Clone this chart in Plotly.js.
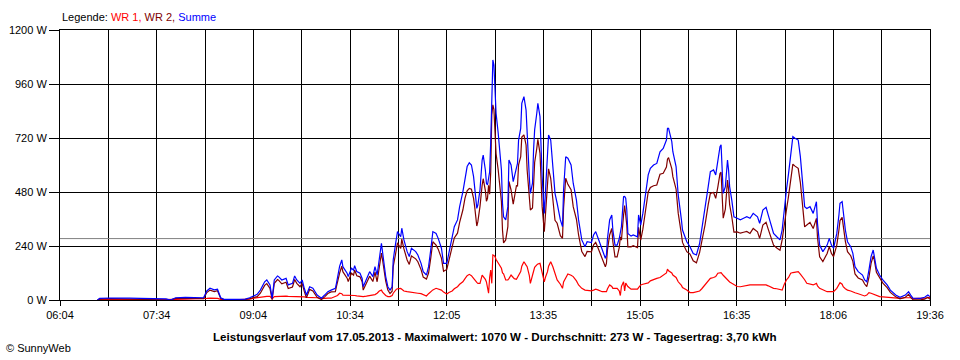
<!DOCTYPE html>
<html>
<head>
<meta charset="utf-8">
<script src="https://cdn.plot.ly/plotly-3.0.1.min.js"></script>
<style>html,body{margin:0;padding:0;background:#fff;}#chart{width:960px;height:360px;}</style>
</head>
<body>
<div id="chart"></div>
<script>
// ---- data ----
const times = ["06:39","06:41","06:51","07:00","07:09","07:19","07:28","07:37","07:43","07:47","07:52","08:01","08:10","08:18","08:21","08:24","08:28","08:31","08:34","08:37","08:47","08:57","09:01","09:05","09:08","09:11","09:15","09:17","09:20","09:22","09:24","09:27","09:28","09:31","09:33","09:35","09:37","09:41","09:43","09:45","09:48","09:50","09:52","09:54","09:57","10:00","10:04","10:08","10:11","10:14","10:17","10:21","10:22","10:23","10:25","10:27","10:28","10:32","10:33","10:36","10:38","10:39","10:41","10:44","10:46","10:47","10:50","10:53","10:56","10:58","11:00","11:02","11:04","11:05","11:08","11:10","11:12","11:14","11:15","11:17","11:18","11:19","11:22","11:23","11:25","11:28","11:30","11:32","11:36","11:38","11:41","11:43","11:46","11:48","11:50","11:52","11:55","11:57","12:00","12:02","12:05","12:07","12:10","12:12","12:15","12:17","12:20","12:22","12:24","12:26","12:28","12:30","12:31","12:33","12:34","12:36","12:38","12:39","12:41","12:42","12:43","12:44","12:45","12:46","12:47","12:48","12:49","12:50","12:51","12:53","12:54","12:56","12:57","12:58","13:00","13:02","13:03","13:05","13:07","13:08","13:10","13:11","13:12","13:14","13:15","13:17","13:19","13:20","13:22","13:23","13:25","13:26","13:27","13:29","13:30","13:32","13:33","13:34","13:36","13:37","13:39","13:40","13:42","13:44","13:46","13:48","13:51","13:53","13:54","13:56","13:58","14:01","14:03","14:06","14:08","14:11","14:14","14:16","14:20","14:22","14:24","14:26","14:28","14:30","14:33","14:34","14:35","14:37","14:39","14:40","14:42","14:44","14:46","14:47","14:48","14:50","14:51","14:52","14:53","14:54","14:57","14:59","15:03","15:04","15:06","15:08","15:10","15:13","15:15","15:18","15:21","15:24","15:27","15:30","15:31","15:32","15:35","15:36","15:39","15:41","15:44","15:45","15:49","15:52","15:55","15:58","16:01","16:03","16:06","16:09","16:11","16:14","16:16","16:18","16:20","16:21","16:23","16:25","16:27","16:28","16:29","16:31","16:33","16:36","16:39","16:42","16:45","16:48","16:51","16:55","16:57","17:00","17:03","17:05","17:08","17:10","17:13","17:16","17:18","17:20","17:22","17:24","17:26","17:28","17:30","17:33","17:35","17:37","17:39","17:41","17:44","17:47","17:50","17:51","17:53","17:56","18:00","18:02","18:04","18:06","18:09","18:11","18:12","18:14","18:15","18:17","18:19","18:22","18:24","18:26","18:29","18:33","18:35","18:37","18:39","18:41","18:43","18:44","18:46","18:49","18:52","18:56","18:59","19:04","19:08","19:13","19:16","19:18","19:20","19:27","19:31","19:34","19:36"];

const summe = [0,7,9,7,8,7,5,5,5,0,10,12,11,10,40,52,45,48,10,3,3,4,10,20,25,44,81,89,67,7,89,107,104,89,93,96,67,74,107,89,74,89,52,22,59,52,22,8,22,37,44,52,74,104,150,178,148,119,104,141,133,153,126,119,96,59,96,126,104,148,111,193,252,215,104,59,44,59,178,244,289,304,281,319,267,215,193,230,215,200,163,126,111,148,222,304,296,274,230,163,163,207,281,326,356,415,481,548,593,610,600,548,504,407,422,490,622,644,578,519,511,540,570,700,896,1067,1044,889,830,741,681,578,430,370,356,415,622,600,526,548,600,607,711,763,874,904,844,726,548,474,519,667,756,830,874,815,667,548,385,474,637,733,711,607,474,430,356,326,489,637,630,600,519,444,356,267,237,259,255,289,304,278,250,222,185,200,274,356,378,311,244,244,274,300,326,459,460,452,400,296,284,289,281,378,333,385,452,556,585,600,607,659,674,711,763,763,704,659,593,467,356,311,259,237,207,200,252,311,400,504,570,578,556,622,681,690,474,504,622,578,504,444,370,363,356,363,370,363,385,370,341,400,412,378,326,296,281,267,311,415,489,563,652,726,719,711,637,533,415,407,415,385,437,341,244,215,244,274,244,230,296,378,430,437,385,311,259,237,207,148,126,111,89,81,133,193,222,200,141,111,89,67,44,22,12,22,37,22,8,7,12,22,15];

const wr1 = [0,3,3,2,3,2,2,2,2,0,3,4,4,4,7,8,8,7,3,1,1,1,4,8,10,14,16,16,16,5,15,16,16,17,17,17,16,16,16,15,15,15,14,12,12,12,10,6,8,8,8,15,15,20,30,28,22,22,22,22,22,20,18,16,15,15,17,20,22,24,30,40,44,35,20,15,15,20,30,44,48,50,52,48,40,37,35,34,32,30,28,24,18,28,37,45,52,48,44,35,27,33,40,50,59,70,81,95,108,114,108,96,88,78,74,74,111,105,92,80,59,30,100,133,74,200,198,193,180,163,155,141,120,116,89,89,95,111,100,95,92,100,110,126,150,170,155,148,110,74,110,133,145,156,160,163,140,133,81,100,126,150,170,148,120,89,70,52,80,96,116,110,104,85,67,52,44,43,41,44,48,45,42,37,37,37,50,67,60,52,52,52,40,20,60,81,40,75,67,60,48,48,48,55,67,70,72,76,85,92,96,100,111,120,137,130,120,111,100,81,65,55,44,33,33,35,40,50,67,80,96,100,104,119,119,122,110,100,89,86,80,74,68,60,59,62,65,67,67,67,67,67,67,63,57,52,50,46,44,70,89,100,119,122,124,126,115,104,90,74,70,67,74,63,52,44,37,37,37,37,52,67,77,70,59,50,44,40,35,32,28,22,18,22,33,30,26,22,18,15,14,12,10,8,7,10,12,10,6,6,8,10,12];

const wr2 = [0,4,6,5,5,5,3,3,3,0,7,8,7,6,33,44,37,41,7,2,2,3,6,12,15,30,65,73,51,2,74,91,88,72,76,79,51,58,91,74,59,74,38,10,47,40,12,2,14,29,36,37,59,84,120,150,126,97,82,119,111,133,108,103,81,44,79,106,82,124,81,153,208,180,84,44,29,39,148,200,241,254,229,271,227,178,158,196,183,170,135,102,93,120,185,259,244,226,186,128,136,174,241,276,297,345,400,453,485,496,492,452,416,329,348,416,511,539,486,439,452,510,470,567,822,867,846,696,650,578,526,437,310,254,267,326,527,489,426,453,508,507,601,637,724,734,689,578,438,400,409,534,611,674,714,652,527,415,304,374,511,583,541,459,354,341,286,274,409,541,514,490,415,359,289,215,193,216,214,245,256,233,208,185,148,163,224,289,318,259,192,192,234,280,266,378,420,377,333,236,236,241,233,323,266,315,380,480,500,508,511,559,563,591,626,633,584,548,493,386,291,256,215,204,174,165,212,261,333,424,474,478,452,503,562,568,364,404,533,492,424,370,302,303,297,301,305,296,318,303,274,333,345,315,269,244,231,221,267,345,400,463,533,604,595,585,522,429,325,333,345,318,363,278,192,171,207,237,207,193,244,311,353,367,326,261,215,197,172,116,98,89,71,59,100,163,196,178,123,96,75,55,34,14,5,12,25,12,2,1,4,12,3];

const average = 273;          // Durchschnitt (W)
const yTickValues = [0, 240, 480, 720, 960, 1200];
const yTickLabels = ["0 W", "240 W", "480 W", "720 W", "960 W", "1200 W"];
const xTickLabels = ["06:04","07:34","09:04","10:34","12:05","13:35","15:05","16:35","18:06","19:36"];
const xStart = "06:04", xEnd = "19:36";
const legendText = 'Legende: <span style="color:#ff0000">WR 1,</span> <span style="color:#800000">WR 2,</span> <span style="color:#0000ff">Summe</span>';
const footerTitle = "Leistungsverlauf vom 17.05.2013 - Maximalwert: 1070 W - Durchschnitt: 273 W - Tagesertrag: 3,70 kWh";
const copyright = "© SunnyWeb";

// ---- helpers ----
function toMin(s){ const p = s.split(":"); return (+p[0])*60 + (+p[1]); }
const x = times.map(toMin);
const x0 = toMin(xStart), x1 = toMin(xEnd);
const nGrid = (xTickLabels.length - 1) * 2;
const tickvals = [], ticktext = [];
for (let k = 0; k <= nGrid; k++) {
  tickvals.push(x0 + (x1 - x0) * k / nGrid);
  ticktext.push(k % 2 === 0 ? xTickLabels[k / 2] : "");
}

const font = "Liberation Sans, Arial, sans-serif";
const traces = [
  {x: [x0, x1], y: [average, average], mode: "lines", line: {color: "#808080", width: 1}, hoverinfo: "skip"},
  {x: x, y: wr1, mode: "lines", name: "WR 1", line: {color: "#ff0000", width: 1.2}},
  {x: x, y: wr2, mode: "lines", name: "WR 2", line: {color: "#800000", width: 1.2}},
  {x: x, y: summe, mode: "lines", name: "Summe", line: {color: "#0000ff", width: 1.2}}
];

const layout = {
  width: 960, height: 360,
  margin: {l: 60, r: 30, t: 30, b: 60, pad: 0},
  paper_bgcolor: "#ffffff", plot_bgcolor: "#ffffff",
  showlegend: false,
  font: {family: font, size: 11, color: "#000"},
  xaxis: {
    range: [x0, x1], tickmode: "array", tickvals: tickvals, ticktext: ticktext,
    showgrid: true, gridcolor: "#000", gridwidth: 1,
    ticks: "outside", ticklen: 5, tickcolor: "#000", tickwidth: 1,
    showline: true, linecolor: "#000", linewidth: 1, mirror: true,
    zeroline: false, tickfont: {family: font, size: 11, color: "#000"}
  },
  yaxis: {
    range: [0, 1200], tickmode: "array", tickvals: yTickValues, ticktext: yTickLabels,
    showgrid: true, gridcolor: "#000", gridwidth: 1,
    ticks: "outside", ticklen: 10, tickcolor: "#000", tickwidth: 1,
    showline: true, linecolor: "#000", linewidth: 1, mirror: true,
    zeroline: false, tickfont: {family: font, size: 11, color: "#000"}
  },
  annotations: [
    {xref: "paper", yref: "paper", x: 0, y: (300 - 17) / 270, xanchor: "left", yanchor: "middle",
     text: legendText, showarrow: false, font: {family: font, size: 11, color: "#000"}},
    {xref: "paper", yref: "paper", x: 0.5, y: (300 - 336) / 270, xanchor: "center", yanchor: "middle",
     text: "<b>" + footerTitle + "</b>", showarrow: false, font: {family: font, size: 11.6, color: "#000"}},
    {xref: "paper", yref: "paper", x: (4 - 60) / 870, y: (300 - 348) / 270, xanchor: "left", yanchor: "middle",
     text: copyright, showarrow: false, font: {family: font, size: 11, color: "#000"}}
  ]
};

Plotly.newPlot("chart", traces, layout, {staticPlot: true, displayModeBar: false});
</script>
</body>
</html>
